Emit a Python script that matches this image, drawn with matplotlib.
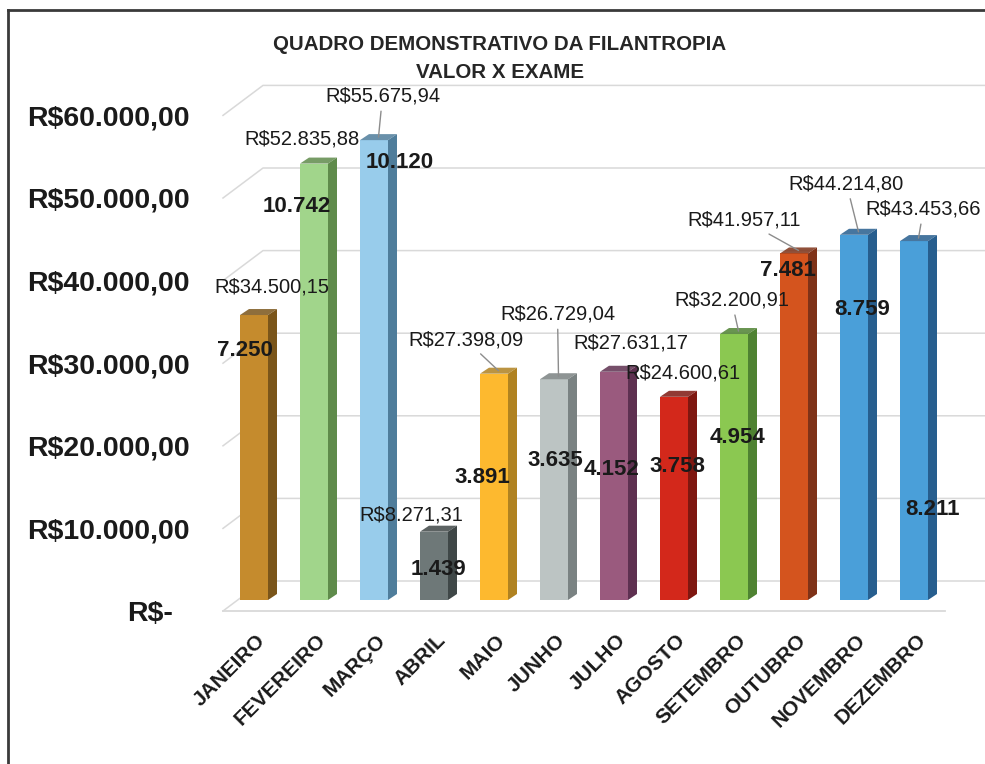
import numpy as np
import matplotlib.pyplot as plt
from matplotlib.patches import Polygon
from matplotlib.transforms import ScaledTranslation
from matplotlib.lines import Line2D

plt.rcParams['font.family'] = ['Liberation Sans', 'DejaVu Sans']

# dados
meses = ['JANEIRO', 'FEVEREIRO', 'MARÇO', 'ABRIL', 'MAIO', 'JUNHO',
         'JULHO', 'AGOSTO', 'SETEMBRO', 'OUTUBRO', 'NOVEMBRO', 'DEZEMBRO']
valores = [34500.15, 52835.88, 55675.94, 8271.31, 27398.09, 26729.04,
           27631.17, 24600.61, 32200.91, 41957.11, 44214.80, 43453.66]
exames = [7250, 10742, 10120, 1439, 3891, 3635, 4152, 3758, 4954, 7481, 8759, 8211]
yticks = [0, 10000, 20000, 30000, 40000, 50000, 60000]

cores = ['#C58B2D', '#A1D58B', '#98CCEB', '#6E7878', '#FDB92F', '#BCC4C3',
         '#9A5A7E', '#D3281B', '#8BC851', '#D4541E', '#4A9FD9', '#4A9FD9']
lados = ['#7A551A', '#5F8B4B', '#4F7D9B', '#3F4747', '#B08221', '#7A8282',
         '#5E3050', '#7E1710', '#4F8232', '#7E3218', '#275E8E', '#275E8E']

# deslocamento dos rotulos em pixels a partir do topo da barra
off_valor = [(13, 25), (-17, 22), (4, 41), (-27, 14), (-33, 31), (-1, 62),
             (12, 26), (4, 21), (-7, 31), (-54, 30), (-12, 48), (5, 29)]
off_exame = [(-9, -35), (-17, -43), (26, -22), (4, -38), (-12, -104), (1, -81),
             (-2, -98), (3, -70), (4, -103), (-6, -17), (8, -75), (19, -268)]
com_linha = [False, False, True, False, True, True, False, False, True, True, True, True]


def brl(v):
    return 'R$' + f'{v:,.2f}'.replace(',', 'X').replace('.', ',').replace('X', '.')


W, H = 985, 764
fig = plt.figure(figsize=(W / 100, H / 100), dpi=100)
# eixo: x=0 no pixel 254, 60 px por categoria; y=0 no pixel 600
ax = fig.add_axes([224 / W, (H - 600) / H, 720 / W, 495.6 / H])
ax.set_xlim(-0.5, 11.5)
ax.set_ylim(0, 60000)
for s in ax.spines.values():
    s.set_visible(False)

kx = 1 / 60.0          # dados por pixel em x
ky = 60000 / 495.6     # dados por pixel em y

# grade 3D (parede do fundo)
for v in yticks:
    x0, y0 = -31 * kx, v - 11 * ky
    x1, y1 = 9 * kx, v + 19 * ky
    ax.plot([x0, x1, (985 - 254) * kx], [y0, y1, y1], color='#D9D9D9',
            lw=1.1, zorder=0, clip_on=False)
# borda frontal do piso
ax.plot([-31 * kx, (945 - 254) * kx], [-11 * ky, -11 * ky], color='#D9D9D9',
        lw=1.3, zorder=0, clip_on=False)

x = np.arange(len(meses))
bw = 28 * kx
ddx, ddy = 9 * kx, 6 * ky
ax.bar(x, valores, width=bw, color=cores, edgecolor='none', zorder=2)
for i, v in enumerate(valores):
    xr = x[i] + bw / 2
    xl = x[i] - bw / 2
    side = Polygon([(xr, 0), (xr + ddx, ddy), (xr + ddx, v + ddy), (xr, v)],
                   closed=True, facecolor=lados[i], edgecolor='none', zorder=2)
    top = Polygon([(xl, v), (xl + ddx, v + ddy), (xr + ddx, v + ddy), (xr, v)],
                  closed=True, facecolor=lados[i], edgecolor='none', zorder=2, alpha=0.85)
    ax.add_patch(side)
    ax.add_patch(top)

for i, v in enumerate(valores):
    ap = None
    if com_linha[i]:
        ap = dict(arrowstyle='-', color='#8C8C8C', lw=1, shrinkA=2, shrinkB=0)
    ax.annotate(brl(v), xy=(x[i] + ddx / 2, v + ddy / 2), xytext=off_valor[i],
                textcoords='offset pixels', ha='center', va='center',
                fontsize=14.5, color='#1A1A1A', arrowprops=ap, zorder=5)
    ax.annotate(f'{exames[i]:,}'.replace(',', '.'), xy=(x[i], v), xytext=off_exame[i],
                textcoords='offset pixels', ha='center', va='center',
                fontsize=16, fontweight='bold', color='#1A1A1A', zorder=5)

# eixos
ylab = ['R$-' if v == 0 else brl(v) for v in yticks]
ax.set_yticks(yticks, ylab, fontsize=20.5, fontweight='bold', color='#1A1A1A')
ax.tick_params(axis='y', length=0, pad=24.5)
for t, v in zip(ax.get_yticklabels(), yticks):
    dx = -17 / 100 if v == 0 else 0
    t.set_transform(t.get_transform() + ScaledTranslation(dx, -11 / 100, fig.dpi_scale_trans))

ax.set_xticks(x, meses, rotation=45, ha='right', va='top', rotation_mode='anchor',
              fontsize=15, fontweight='bold', color='#1A1A1A')
ax.tick_params(axis='x', length=0, pad=22)
for t in ax.get_xticklabels():
    t.set_transform(t.get_transform() + ScaledTranslation(2 / 100, 0, fig.dpi_scale_trans))

fig.text(500 / W, 1 - 45 / H, 'QUADRO DEMONSTRATIVO DA FILANTROPIA', ha='center',
         va='center', fontsize=14.8, fontweight='bold', color='#262626')
fig.text(500 / W, 1 - 73 / H, 'VALOR X EXAME', ha='center', va='center',
         fontsize=14.8, fontweight='bold', color='#262626')

# moldura
fig.add_artist(Line2D([8 / W, 1], [1 - 10 / H, 1 - 10 / H], color='#3A3A3A', lw=2))
fig.add_artist(Line2D([8 / W, 8 / W], [0, 1 - 10 / H], color='#3A3A3A', lw=2))

fig.savefig('out.png', dpi=100)
